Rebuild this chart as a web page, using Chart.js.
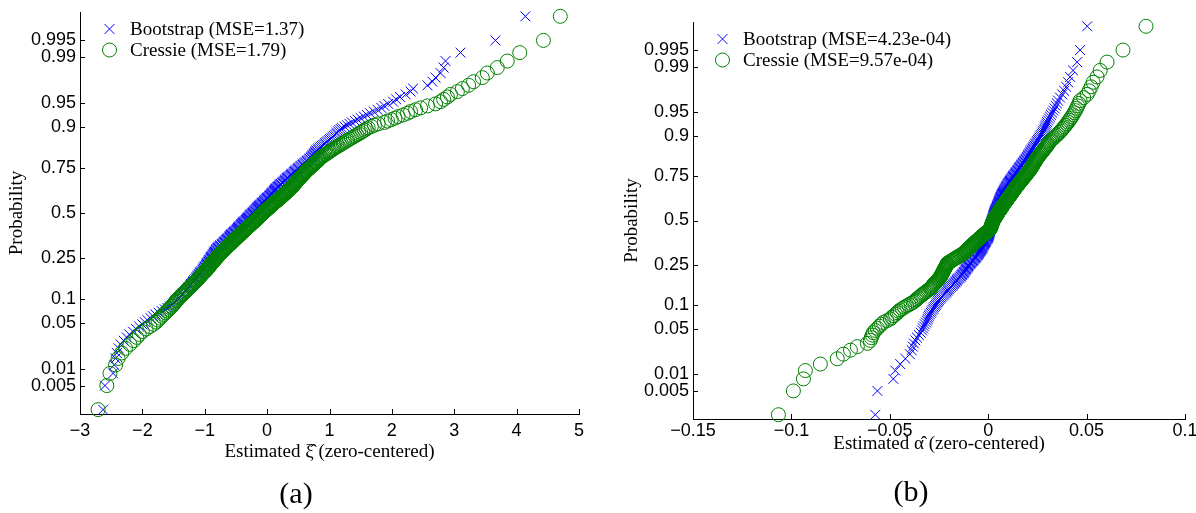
<!DOCTYPE html>
<html>
<head>
<meta charset="utf-8">
<script src="https://cdn.jsdelivr.net/npm/chart.js@4.4.1/dist/chart.umd.min.js"></script>
<style>
  html, body { margin: 0; padding: 0; background: #fff; }
  #page { position: relative; width: 1196px; height: 513px; overflow: hidden; }
  .panel { position: absolute; top: 0; width: 598px; height: 513px; }
  .caption { position: absolute; font-family: 'Liberation Serif', 'Times New Roman', serif; font-size: 30px; color: #000; transform: translate(-50%, -50%); white-space: nowrap; }
</style>
</head>
<body>
<div id="page">
  <div class="panel" style="left:0"><canvas id="chartXi" width="598" height="513"></canvas></div>
  <div class="panel" style="left:598px"><canvas id="chartAlpha" width="598" height="513"></canvas></div>
  <div class="caption" style="left:296px; top:493px">(a)</div>
  <div class="caption" style="left:911px; top:491px">(b)</div>
</div>
<script>
// Sorted estimates (zero-centered), one value per replicate.
// Panel (a): shape parameter xi
const bootstrapXi = [
  -2.63, -2.60, -2.47, -2.45, -2.43, -2.41, -2.38, -2.35, -2.30, -2.25,
  -2.21, -2.15, -2.10, -2.05, -2.00, -1.96, -1.92, -1.87, -1.83, -1.79,
  -1.74, -1.69, -1.64, -1.60, -1.56, -1.53, -1.51, -1.48, -1.46, -1.43,
  -1.41, -1.40, -1.38, -1.36, -1.35, -1.33, -1.31, -1.30, -1.28, -1.27,
  -1.26, -1.24, -1.23, -1.22, -1.20, -1.19, -1.18, -1.17, -1.15, -1.14,
  -1.13, -1.12, -1.11, -1.10, -1.09, -1.08, -1.07, -1.06, -1.04, -1.03,
  -1.02, -1.02, -1.01, -1.00, -0.99, -0.98, -0.97, -0.97, -0.96, -0.95,
  -0.94, -0.93, -0.93, -0.92, -0.91, -0.90, -0.90, -0.89, -0.88, -0.87,
  -0.87, -0.86, -0.85, -0.85, -0.84, -0.83, -0.82, -0.82, -0.81, -0.80,
  -0.79, -0.78, -0.77, -0.76, -0.75, -0.73, -0.72, -0.71, -0.70, -0.69,
  -0.68, -0.67, -0.66, -0.65, -0.64, -0.63, -0.62, -0.61, -0.60, -0.60,
  -0.59, -0.58, -0.57, -0.56, -0.55, -0.54, -0.53, -0.52, -0.51, -0.50,
  -0.49, -0.48, -0.47, -0.47, -0.46, -0.45, -0.44, -0.43, -0.42, -0.41,
  -0.41, -0.40, -0.39, -0.38, -0.37, -0.36, -0.35, -0.34, -0.33, -0.32,
  -0.32, -0.31, -0.30, -0.29, -0.28, -0.27, -0.27, -0.26, -0.25, -0.24,
  -0.23, -0.22, -0.21, -0.20, -0.20, -0.19, -0.18, -0.17, -0.16, -0.15,
  -0.15, -0.14, -0.13, -0.12, -0.11, -0.10, -0.09, -0.08, -0.07, -0.06,
  -0.05, -0.05, -0.04, -0.03, -0.02, -0.01, 0.00, 0.01, 0.02, 0.03,
  0.04, 0.05, 0.06, 0.07, 0.07, 0.08, 0.09, 0.10, 0.11, 0.12,
  0.12, 0.13, 0.14, 0.15, 0.16, 0.17, 0.18, 0.19, 0.20, 0.21,
  0.22, 0.24, 0.25, 0.26, 0.27, 0.28, 0.29, 0.30, 0.31, 0.32,
  0.33, 0.34, 0.36, 0.37, 0.38, 0.39, 0.40, 0.42, 0.43, 0.44,
  0.45, 0.46, 0.48, 0.49, 0.50, 0.51, 0.53, 0.54, 0.56, 0.57,
  0.58, 0.60, 0.61, 0.63, 0.64, 0.65, 0.67, 0.68, 0.70, 0.71,
  0.72, 0.73, 0.74, 0.75, 0.76, 0.77, 0.78, 0.79, 0.81, 0.82,
  0.84, 0.86, 0.88, 0.90, 0.92, 0.93, 0.95, 0.97, 0.99, 1.01,
  1.03, 1.05, 1.07, 1.09, 1.11, 1.12, 1.14, 1.16, 1.18, 1.20,
  1.24, 1.28, 1.32, 1.36, 1.41, 1.45, 1.50, 1.55, 1.60, 1.65,
  1.71, 1.77, 1.83, 1.88, 1.94, 2.02, 2.07, 2.13, 2.22, 2.30,
  2.34, 2.57, 2.65, 2.70, 2.78, 2.83, 2.86, 3.10, 3.66, 4.14
];
const cressieXi = [
  -2.71, -2.57, -2.52, -2.43, -2.39, -2.33, -2.27, -2.20, -2.14, -2.09,
  -2.05, -2.00, -1.94, -1.88, -1.82, -1.78, -1.75, -1.72, -1.69, -1.66,
  -1.63, -1.60, -1.58, -1.55, -1.53, -1.51, -1.49, -1.47, -1.46, -1.44,
  -1.42, -1.40, -1.38, -1.36, -1.34, -1.32, -1.30, -1.29, -1.27, -1.25,
  -1.23, -1.22, -1.20, -1.19, -1.17, -1.16, -1.14, -1.13, -1.11, -1.10,
  -1.09, -1.07, -1.06, -1.05, -1.04, -1.02, -1.01, -1.00, -0.98, -0.97,
  -0.96, -0.95, -0.94, -0.93, -0.92, -0.91, -0.90, -0.89, -0.88, -0.87,
  -0.86, -0.85, -0.84, -0.83, -0.82, -0.81, -0.80, -0.79, -0.78, -0.77,
  -0.76, -0.75, -0.74, -0.73, -0.72, -0.71, -0.70, -0.69, -0.68, -0.67,
  -0.66, -0.65, -0.64, -0.63, -0.62, -0.60, -0.59, -0.58, -0.57, -0.56,
  -0.55, -0.54, -0.53, -0.52, -0.51, -0.50, -0.49, -0.48, -0.47, -0.46,
  -0.45, -0.44, -0.43, -0.42, -0.41, -0.40, -0.39, -0.38, -0.37, -0.36,
  -0.35, -0.34, -0.33, -0.32, -0.31, -0.30, -0.29, -0.28, -0.27, -0.26,
  -0.25, -0.24, -0.23, -0.22, -0.21, -0.20, -0.19, -0.18, -0.17, -0.16,
  -0.15, -0.14, -0.14, -0.13, -0.12, -0.11, -0.10, -0.09, -0.08, -0.07,
  -0.06, -0.05, -0.04, -0.03, -0.02, -0.01, 0.00, 0.01, 0.02, 0.03,
  0.04, 0.05, 0.06, 0.07, 0.08, 0.09, 0.10, 0.11, 0.12, 0.13,
  0.14, 0.15, 0.17, 0.18, 0.19, 0.20, 0.21, 0.22, 0.23, 0.24,
  0.25, 0.26, 0.27, 0.28, 0.29, 0.30, 0.31, 0.32, 0.33, 0.34,
  0.35, 0.36, 0.37, 0.38, 0.39, 0.40, 0.41, 0.42, 0.42, 0.43,
  0.44, 0.45, 0.46, 0.47, 0.47, 0.48, 0.49, 0.50, 0.51, 0.52,
  0.53, 0.54, 0.55, 0.56, 0.57, 0.58, 0.59, 0.60, 0.61, 0.62,
  0.63, 0.64, 0.65, 0.67, 0.68, 0.69, 0.70, 0.72, 0.73, 0.74,
  0.75, 0.77, 0.78, 0.79, 0.81, 0.82, 0.83, 0.84, 0.86, 0.87,
  0.89, 0.91, 0.93, 0.95, 0.97, 0.99, 1.01, 1.03, 1.05, 1.07,
  1.09, 1.12, 1.14, 1.17, 1.19, 1.22, 1.24, 1.27, 1.29, 1.32,
  1.35, 1.38, 1.41, 1.44, 1.47, 1.50, 1.53, 1.56, 1.59, 1.62,
  1.67, 1.72, 1.78, 1.88, 1.93, 1.99, 2.05, 2.10, 2.18, 2.25,
  2.30, 2.38, 2.46, 2.57, 2.70, 2.78, 2.83, 2.89, 2.94, 3.05,
  3.13, 3.23, 3.31, 3.45, 3.53, 3.69, 3.85, 4.05, 4.43, 4.70
];
// Panel (b): tail index alpha
const bootstrapAlpha = [
  -0.0574, -0.0563, -0.0482, -0.0472, -0.0447, -0.0421, -0.0398, -0.0389, -0.0383, -0.0378,
  -0.0370, -0.0362, -0.0352, -0.0343, -0.0336, -0.0332, -0.0327, -0.0322, -0.0316, -0.0311,
  -0.0308, -0.0305, -0.0301, -0.0297, -0.0292, -0.0288, -0.0283, -0.0279, -0.0275, -0.0270,
  -0.0266, -0.0262, -0.0258, -0.0254, -0.0250, -0.0245, -0.0241, -0.0236, -0.0230, -0.0225,
  -0.0220, -0.0215, -0.0211, -0.0207, -0.0204, -0.0200, -0.0195, -0.0190, -0.0185, -0.0180,
  -0.0176, -0.0172, -0.0168, -0.0165, -0.0161, -0.0158, -0.0155, -0.0150, -0.0145, -0.0140,
  -0.0137, -0.0134, -0.0131, -0.0128, -0.0125, -0.0122, -0.0120, -0.0117, -0.0115, -0.0112,
  -0.0110, -0.0107, -0.0105, -0.0102, -0.0100, -0.0097, -0.0094, -0.0091, -0.0088, -0.0085,
  -0.0082, -0.0079, -0.0076, -0.0073, -0.0070, -0.0068, -0.0065, -0.0062, -0.0059, -0.0056,
  -0.0054, -0.0052, -0.0050, -0.0048, -0.0046, -0.0044, -0.0042, -0.0040, -0.0038, -0.0036,
  -0.0034, -0.0032, -0.0030, -0.0029, -0.0028, -0.0026, -0.0024, -0.0022, -0.0021, -0.0019,
  -0.0017, -0.0016, -0.0014, -0.0012, -0.0011, -0.0009, -0.0007, -0.0005, -0.0004, -0.0002,
  -0.0001, 0.0000, 0.0001, 0.0002, 0.0003, 0.0004, 0.0005, 0.0006, 0.0006, 0.0007,
  0.0007, 0.0008, 0.0008, 0.0009, 0.0010, 0.0011, 0.0011, 0.0012, 0.0013, 0.0013,
  0.0014, 0.0015, 0.0015, 0.0016, 0.0017, 0.0017, 0.0018, 0.0019, 0.0019, 0.0020,
  0.0021, 0.0022, 0.0023, 0.0024, 0.0024, 0.0025, 0.0026, 0.0027, 0.0028, 0.0028,
  0.0029, 0.0030, 0.0031, 0.0032, 0.0033, 0.0034, 0.0035, 0.0036, 0.0037, 0.0038,
  0.0039, 0.0041, 0.0042, 0.0043, 0.0044, 0.0045, 0.0047, 0.0048, 0.0049, 0.0051,
  0.0052, 0.0053, 0.0054, 0.0055, 0.0056, 0.0057, 0.0058, 0.0060, 0.0061, 0.0062,
  0.0063, 0.0064, 0.0065, 0.0067, 0.0068, 0.0070, 0.0071, 0.0073, 0.0075, 0.0076,
  0.0078, 0.0080, 0.0081, 0.0083, 0.0085, 0.0086, 0.0088, 0.0090, 0.0091, 0.0093,
  0.0095, 0.0097, 0.0100, 0.0102, 0.0104, 0.0106, 0.0109, 0.0111, 0.0113, 0.0116,
  0.0118, 0.0120, 0.0122, 0.0125, 0.0127, 0.0130, 0.0133, 0.0135, 0.0138, 0.0141,
  0.0143, 0.0146, 0.0149, 0.0152, 0.0154, 0.0157, 0.0160, 0.0162, 0.0165, 0.0168,
  0.0171, 0.0174, 0.0177, 0.0180, 0.0183, 0.0186, 0.0189, 0.0192, 0.0195, 0.0198,
  0.0201, 0.0204, 0.0207, 0.0210, 0.0213, 0.0216, 0.0219, 0.0222, 0.0225, 0.0228,
  0.0232, 0.0235, 0.0239, 0.0242, 0.0246, 0.0249, 0.0253, 0.0256, 0.0260, 0.0264,
  0.0268, 0.0272, 0.0276, 0.0280, 0.0284, 0.0287, 0.0290, 0.0293, 0.0296, 0.0299,
  0.0304, 0.0309, 0.0314, 0.0319, 0.0325, 0.0331, 0.0337, 0.0343, 0.0349, 0.0355,
  0.0365, 0.0376, 0.0386, 0.0396, 0.0406, 0.0416, 0.0431, 0.0452, 0.0467, 0.0503
];
const cressieAlpha = [
  -0.1066, -0.0990, -0.0939, -0.0929, -0.0853, -0.0767, -0.0736, -0.0700, -0.0665, -0.0614,
  -0.0599, -0.0594, -0.0589, -0.0584, -0.0574, -0.0563, -0.0553, -0.0543, -0.0533, -0.0515,
  -0.0497, -0.0489, -0.0480, -0.0471, -0.0462, -0.0455, -0.0447, -0.0436, -0.0425, -0.0414,
  -0.0403, -0.0392, -0.0381, -0.0374, -0.0367, -0.0361, -0.0354, -0.0347, -0.0341, -0.0334,
  -0.0327, -0.0321, -0.0314, -0.0307, -0.0301, -0.0294, -0.0290, -0.0286, -0.0283, -0.0279,
  -0.0275, -0.0271, -0.0267, -0.0263, -0.0259, -0.0256, -0.0252, -0.0248, -0.0244, -0.0242,
  -0.0240, -0.0238, -0.0236, -0.0234, -0.0232, -0.0230, -0.0228, -0.0226, -0.0224, -0.0222,
  -0.0220, -0.0218, -0.0216, -0.0214, -0.0212, -0.0210, -0.0209, -0.0208, -0.0203, -0.0197,
  -0.0192, -0.0186, -0.0181, -0.0176, -0.0170, -0.0165, -0.0160, -0.0154, -0.0149, -0.0143,
  -0.0138, -0.0133, -0.0127, -0.0124, -0.0121, -0.0117, -0.0114, -0.0111, -0.0108, -0.0105,
  -0.0101, -0.0098, -0.0095, -0.0092, -0.0088, -0.0085, -0.0082, -0.0079, -0.0076, -0.0072,
  -0.0069, -0.0066, -0.0063, -0.0059, -0.0056, -0.0053, -0.0049, -0.0046, -0.0043, -0.0040,
  -0.0036, -0.0033, -0.0030, -0.0026, -0.0023, -0.0020, -0.0017, -0.0013, -0.0010, -0.0007,
  -0.0003, 0.0000, 0.0003, 0.0007, 0.0010, 0.0011, 0.0012, 0.0013, 0.0014, 0.0015,
  0.0016, 0.0017, 0.0018, 0.0019, 0.0020, 0.0021, 0.0022, 0.0023, 0.0024, 0.0025,
  0.0027, 0.0029, 0.0030, 0.0032, 0.0034, 0.0036, 0.0037, 0.0039, 0.0041, 0.0042,
  0.0044, 0.0046, 0.0048, 0.0049, 0.0051, 0.0053, 0.0055, 0.0057, 0.0059, 0.0061,
  0.0063, 0.0065, 0.0067, 0.0068, 0.0070, 0.0072, 0.0074, 0.0076, 0.0078, 0.0080,
  0.0082, 0.0084, 0.0086, 0.0089, 0.0091, 0.0093, 0.0095, 0.0097, 0.0099, 0.0101,
  0.0103, 0.0106, 0.0108, 0.0110, 0.0112, 0.0114, 0.0116, 0.0119, 0.0121, 0.0123,
  0.0125, 0.0127, 0.0130, 0.0132, 0.0134, 0.0136, 0.0138, 0.0141, 0.0143, 0.0145,
  0.0148, 0.0151, 0.0153, 0.0156, 0.0159, 0.0162, 0.0164, 0.0167, 0.0170, 0.0173,
  0.0175, 0.0178, 0.0181, 0.0184, 0.0187, 0.0189, 0.0192, 0.0195, 0.0198, 0.0201,
  0.0204, 0.0206, 0.0209, 0.0212, 0.0215, 0.0217, 0.0220, 0.0222, 0.0225, 0.0227,
  0.0229, 0.0232, 0.0234, 0.0237, 0.0239, 0.0242, 0.0244, 0.0247, 0.0249, 0.0253,
  0.0257, 0.0261, 0.0265, 0.0268, 0.0272, 0.0276, 0.0280, 0.0284, 0.0288, 0.0292,
  0.0296, 0.0299, 0.0303, 0.0307, 0.0311, 0.0315, 0.0322, 0.0328, 0.0335, 0.0341,
  0.0348, 0.0355, 0.0361, 0.0368, 0.0374, 0.0381, 0.0387, 0.0393, 0.0399, 0.0406,
  0.0412, 0.0418, 0.0424, 0.0431, 0.0437, 0.0443, 0.0449, 0.0455, 0.0461, 0.0467,
  0.0485, 0.0503, 0.0513, 0.0523, 0.0533, 0.0553, 0.0569, 0.0604, 0.0685, 0.0802
];

const seriesLabelsXi = ['Bootstrap (MSE=1.37)', 'Cressie (MSE=1.79)'];
const seriesLabelsAlpha = ['Bootstrap (MSE=4.23e-04)', 'Cressie (MSE=9.57e-04)'];

// Tick positions / labels
const probTicks = [0.005, 0.01, 0.05, 0.1, 0.25, 0.5, 0.75, 0.9, 0.95, 0.99, 0.995];
const probTickLabels = ['0.005', '0.01', '0.05', '0.1', '0.25', '0.5', '0.75', '0.9', '0.95', '0.99', '0.995'];
const xiTicks = [-3, -2, -1, 0, 1, 2, 3, 4, 5];
const xiTickLabels = ['\u22123', '\u22122', '\u22121', '0', '1', '2', '3', '4', '5'];
const alphaTicks = [-0.15, -0.1, -0.05, 0, 0.05, 0.1];
const alphaTickLabels = ['\u22120.15', '\u22120.1', '\u22120.05', '0', '0.05', '0.1'];

const SERIF = "'Liberation Serif', 'Times New Roman', serif";
const SANS = "'Liberation Sans', Arial, Helvetica, sans-serif";
const BLUE = '#0000ff';
const GREEN = '#008000';

// inverse standard normal CDF (Acklam) - the probability axis is linear in this
function probit(p) {
  const a = [-3.969683028665376e+01, 2.209460984245205e+02, -2.759285104469687e+02, 1.383577518672690e+02, -3.066479806614716e+01, 2.506628277459239e+00];
  const b = [-5.447609879822406e+01, 1.615858368580409e+02, -1.556989798598866e+02, 6.680131188771972e+01, -1.328068155288572e+01];
  const c = [-7.784894002430293e-03, -3.223964580411365e-01, -2.400758277161838e+00, -2.549732539343734e+00, 4.374664141464968e+00, 2.938163982698783e+00];
  const d = [7.784695709041462e-03, 3.224671290700398e-01, 2.445134137142996e+00, 3.754408661907416e+00];
  const lo = 0.02425;
  if (p < lo) {
    const q = Math.sqrt(-2 * Math.log(p));
    return (((((c[0] * q + c[1]) * q + c[2]) * q + c[3]) * q + c[4]) * q + c[5]) / ((((d[0] * q + d[1]) * q + d[2]) * q + d[3]) * q + 1);
  }
  if (p > 1 - lo) {
    const q = Math.sqrt(-2 * Math.log(1 - p));
    return -(((((c[0] * q + c[1]) * q + c[2]) * q + c[3]) * q + c[4]) * q + c[5]) / ((((d[0] * q + d[1]) * q + d[2]) * q + d[3]) * q + 1);
  }
  const q = p - 0.5;
  const r = q * q;
  return (((((a[0] * r + a[1]) * r + a[2]) * r + a[3]) * r + a[4]) * r + a[5]) * q / (((((b[0] * r + b[1]) * r + b[2]) * r + b[3]) * r + b[4]) * r + 1);
}

// normal probability plot: sorted values against plotting positions (i - 0.5) / n
function normPoints(values) {
  const sorted = values.slice().sort((a, b) => a - b);
  const n = sorted.length;
  return sorted.map((v, i) => ({ x: v, y: probit((i + 0.5) / n) }));
}

// MATLAB-style ticks that point into the axes
const inwardTicks = {
  id: 'inwardTicks',
  afterDraw(chart) {
    const { ctx, chartArea, scales } = chart;
    const len = 5;
    ctx.save();
    ctx.strokeStyle = '#000';
    ctx.lineWidth = 1;
    ctx.beginPath();
    scales.x.ticks.forEach(t => {
      const px = Math.round(scales.x.getPixelForValue(t.value)) + 0.5;
      ctx.moveTo(px, chartArea.bottom);
      ctx.lineTo(px, chartArea.bottom - len);
    });
    scales.y.ticks.forEach(t => {
      const py = Math.round(scales.y.getPixelForValue(t.value)) + 0.5;
      ctx.moveTo(chartArea.left, py);
      ctx.lineTo(chartArea.left + len, py);
    });
    ctx.stroke();
    ctx.restore();
  }
};

// legend in the upper-left corner of the axes, no box
const cornerLegend = {
  id: 'cornerLegend',
  afterDraw(chart, args, opts) {
    const { ctx, chartArea } = chart;
    const items = chart.data.datasets.slice().sort((a, b) => a.legendIndex - b.legendIndex);
    ctx.save();
    ctx.font = `${opts.fontSize}px ${SERIF}`;
    ctx.textBaseline = 'middle';
    ctx.textAlign = 'left';
    items.forEach((ds, i) => {
      const mx = chartArea.left + opts.markerX;
      const my = chartArea.top + opts.firstY + i * opts.rowGap;
      ctx.strokeStyle = ds.pointBorderColor;
      ctx.fillStyle = 'rgba(0,0,0,0)';
      ctx.lineWidth = ds.pointBorderWidth;
      Chart.helpers.drawPoint(ctx, { pointStyle: ds.pointStyle, radius: ds.pointRadius, borderWidth: ds.pointBorderWidth, rotation: 0 }, mx, my);
      ctx.fillStyle = '#000';
      ctx.fillText(ds.label, chartArea.left + opts.textX, my + 1);
    });
    ctx.restore();
  }
};

function makeDataset(label, values, color, style, legendIndex, order) {
  return {
    label,
    data: normPoints(values),
    pointStyle: style,
    pointRadius: 7,
    pointHoverRadius: 7,
    pointBorderColor: color,
    pointBackgroundColor: 'rgba(0,0,0,0)',
    pointBorderWidth: 1,
    showLine: false,
    clip: false,
    legendIndex,
    order
  };
}

function buildChart(canvasId, cfg) {
  return new Chart(document.getElementById(canvasId), {
    type: 'scatter',
    data: {
      datasets: [
        makeDataset(cfg.labels[0], cfg.bootstrap, BLUE, 'crossRot', 0, 1),
        makeDataset(cfg.labels[1], cfg.cressie, GREEN, 'circle', 1, 0)
      ]
    },
    options: {
      responsive: false,
      animation: false,
      devicePixelRatio: 1,
      events: [],
      layout: { padding: cfg.padding },
      plugins: {
        legend: { display: false },
        tooltip: { enabled: false },
        cornerLegend: { fontSize: 19, markerX: 29.5, firstY: 17, rowGap: 21, textX: 50 }
      },
      scales: {
        x: {
          type: 'linear',
          min: cfg.xTicks[0],
          max: cfg.xTicks[cfg.xTicks.length - 1],
          afterBuildTicks: s => { s.ticks = cfg.xTicks.map(v => ({ value: v })); },
          afterFit: s => { s.height = cfg.xAxisHeight; s.paddingLeft = 0; s.paddingRight = 0; },
          ticks: {
            autoSkip: false,
            maxRotation: 0,
            padding: cfg.xTickPad,
            color: '#000',
            font: { family: SANS, size: 18 },
            callback: (v, i) => cfg.xTickLabels[i]
          },
          grid: { display: false, drawTicks: false, tickLength: 0 },
          border: { display: true, color: '#000', width: 1 },
          title: {
            display: true,
            text: cfg.xTitle,
            color: '#000',
            font: { family: SERIF, size: 19 },
            padding: { top: 0, bottom: cfg.xTitlePad }
          }
        },
        y: {
          type: 'linear',
          min: -3,
          max: 3,
          afterBuildTicks: s => { s.ticks = probTicks.map(p => ({ value: probit(p) })); },
          afterFit: s => { s.width = cfg.yAxisWidth; s.paddingTop = 0; s.paddingBottom = 0; },
          ticks: {
            autoSkip: false,
            padding: 4,
            color: '#000',
            font: { family: SANS, size: 18 },
            callback: (v, i) => probTickLabels[i]
          },
          grid: { display: false, drawTicks: false, tickLength: 0 },
          border: { display: true, color: '#000', width: 1 },
          title: {
            display: true,
            text: 'Probability',
            color: '#000',
            font: { family: SERIF, size: 19 },
            padding: { top: cfg.yTitlePad, bottom: 0 }
          }
        }
      }
    },
    plugins: [inwardTicks, cornerLegend]
  });
}

buildChart('chartXi', {
  bootstrap: bootstrapXi,
  cressie: cressieXi,
  labels: seriesLabelsXi,
  xTicks: xiTicks,
  xTickLabels: xiTickLabels,
  xTitle: 'Estimated \u03BE\u0302 (zero-centered)',
  padding: { left: 0, top: 12, right: 19, bottom: 49 },
  yAxisWidth: 80,
  xAxisHeight: 50,
  xTickPad: 6,
  xTitlePad: 1,
  yTitlePad: 6
});

buildChart('chartAlpha', {
  bootstrap: bootstrapAlpha,
  cressie: cressieAlpha,
  labels: seriesLabelsAlpha,
  xTicks: alphaTicks,
  xTickLabels: alphaTickLabels,
  xTitle: 'Estimated \u03B1\u0302 (zero-centered)',
  padding: { left: 0, top: 22, right: 11, bottom: 44 },
  yAxisWidth: 95,
  xAxisHeight: 50,
  xTickPad: 1,
  xTitlePad: 14,
  yTitlePad: 23
});
</script>
</body>
</html>
